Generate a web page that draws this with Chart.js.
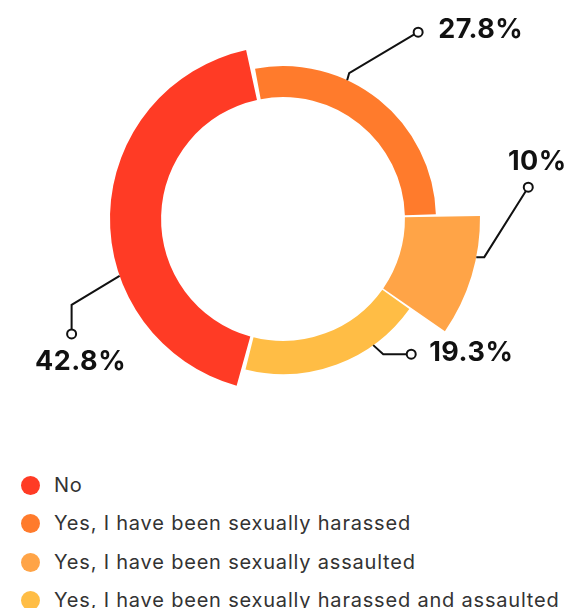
<!DOCTYPE html>
<html>
<head>
<meta charset="utf-8">
<script src="https://cdn.jsdelivr.net/npm/chart.js@4.4.1/dist/chart.umd.min.js"></script>
<style>
  html, body { margin: 0; padding: 0; background: #fff; }
  #wrap { position: relative; width: 573px; height: 608px; overflow: hidden; }
  #box { position: absolute; left: 0; top: 0; width: 573px; height: 438px; }
  #chart-legend { position: absolute; left: 0; top: 466px; width: 573px; }
  #chart-legend ul { list-style: none; margin: 0; padding: 0; }
  #chart-legend li {
    position: relative; height: 38.3px; line-height: 38.3px;
    padding-left: 54px; white-space: nowrap;
    font-family: Inter, "Open Sans", sans-serif; font-size: 20px; letter-spacing: 0.8px; color: #333;
  }
  #chart-legend li span {
    position: absolute; left: 20.5px; top: 10px;
    width: 19px; height: 19px; border-radius: 50%;
  }
</style>
</head>
<body>
<div id="wrap">
  <div id="box"><canvas id="chart"></canvas></div>
  <div id="chart-legend"></div>
</div>
<script>
var labels = ["No", "Yes, I have been sexually harassed", "Yes, I have been sexually assaulted", "Yes, I have been sexually harassed and assaulted"];
var values = [42.8, 27.8, 10, 19.3];
var valueLabels = ["42.8%", "27.8%", "10%", "19.3%"];
var colors = ['#ff3b25', '#ff7b2c', '#ffa447', '#ffbd45'];

// how far out each ring piece reaches, relative to the biggest one
var ringScale = [0.877, 0.774, 1, 0.785];

// leader lines: where on the arc they start, the elbow, the ring, the text
var leaders = [
    { at: 0.365, elbow: [-48, 29], ring: [0, 29], text: [9, 28], align: 'center' },
    { at: 0.36, elbow: [2, -7], ring: [69, -41], text: [20, -2], align: 'left' },
    { at: 0.34, elbow: [8, 0], ring: [44, -70], text: [9, -25], align: 'center' },
    { at: 0.28, elbow: [10, 9], ring: [28, 0], text: [18, -1], align: 'left' }
];

var ringPlugin = {
    id: 'ringWidths',
    afterDatasetsUpdate: function(chart) {
        var arcs = chart.getDatasetMeta(0).data;
        arcs.forEach(function(arc, i) {
            arc.outerRadius = arc.outerRadius * ringScale[i];
        });
    }
};

var leaderPlugin = {
    id: 'leaders',
    afterDatasetsDraw: function(chart) {
        var ctx = chart.ctx;
        var arcs = chart.getDatasetMeta(0).data;
        var half = (chart.options.spacing || 0) / 2;
        ctx.save();
        arcs.forEach(function(arc, i) {
            var l = leaders[i];
            var a = arc.startAngle + (arc.endAngle - arc.startAngle) * l.at;
            var r = arc.outerRadius + half;
            var x0 = arc.x + Math.cos(a) * r;
            var y0 = arc.y + Math.sin(a) * r;
            var x1 = x0 + l.elbow[0], y1 = y0 + l.elbow[1];
            var x2 = x1 + l.ring[0], y2 = y1 + l.ring[1];
            var dx = x2 - x1, dy = y2 - y1, len = Math.sqrt(dx * dx + dy * dy);
            ctx.strokeStyle = '#111';
            ctx.lineWidth = 2;
            ctx.beginPath();
            ctx.moveTo(x0, y0);
            ctx.lineTo(x1, y1);
            ctx.lineTo(x2 - dx / len * 4.5, y2 - dy / len * 4.5);
            ctx.stroke();
            ctx.beginPath();
            ctx.arc(x2, y2, 4.5, 0, Math.PI * 2);
            ctx.fillStyle = '#fff';
            ctx.fill();
            ctx.stroke();
            ctx.fillStyle = '#111';
            ctx.font = 'bold 27px Inter, "Open Sans", sans-serif';
            ctx.letterSpacing = '0.5px';
            ctx.textAlign = l.align;
            ctx.textBaseline = 'middle';
            ctx.fillText(valueLabels[i], x2 + l.text[0], y2 + l.text[1]);
        });
        ctx.restore();
    }
};

var ctx = document.getElementById("chart");

var myChart = new Chart(ctx, {
    type: 'doughnut',
    data: {
        labels: labels,
        datasets: [{
            data: values,
            backgroundColor: colors,
            borderWidth: 0
        }]
    },
    options: {
        responsive: true,
        maintainAspectRatio: false,
        animation: false,
        events: [],
        rotation: 194.5,
        radius: 195,
        cutout: '61.5%',
        spacing: 4,
        layout: { padding: { left: 0, right: 7, top: 0, bottom: 0 } },
        plugins: {
            legend: { display: false },
            tooltip: { enabled: false }
        }
    },
    plugins: [ringPlugin, leaderPlugin]
});

var text = [];
text.push('<ul>');
for (var i = 0; i < myChart.data.labels.length; i++) {
    text.push('<li><span style="background-color:' + myChart.data.datasets[0].backgroundColor[i] + '"></span>');
    text.push(myChart.data.labels[i] + '</li>');
}
text.push('</ul>');
document.getElementById('chart-legend').innerHTML = text.join('');
</script>
</body>
</html>
